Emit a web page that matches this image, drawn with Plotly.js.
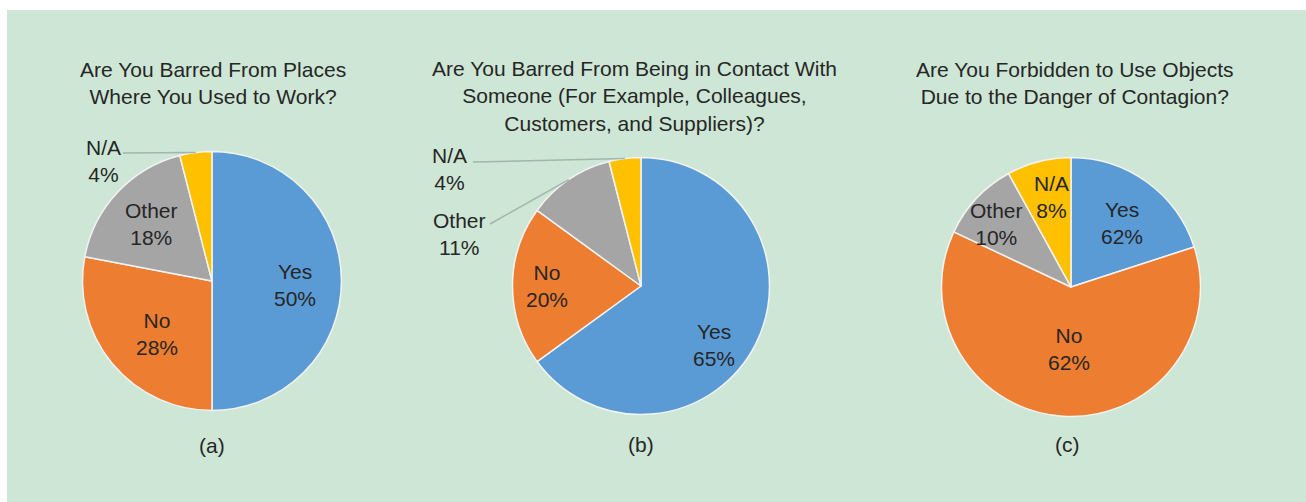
<!DOCTYPE html>
<html><head><meta charset="utf-8">
<script src="https://cdn.plot.ly/plotly-3.0.1.min.js"></script>
<style>
html,body{margin:0;padding:0;background:#fff;width:1306px;height:502px;overflow:hidden}
#chart{position:absolute;left:7px;top:10px;width:1299px;height:492px}
</style>
</head><body><div id="chart"></div>
<script>
// ---- data ----
const categories = ['Yes', 'No', 'Other', 'N/A'];
const valuesA = [50, 28, 18, 4];
const valuesB = [65, 20, 11, 4];
const valuesC = [20, 62, 10, 8];
// percentage labels as printed in the figure
const pctTextA = ['50%', '28%', '18%', '4%'];
const pctTextB = ['65%', '20%', '11%', '4%'];
const pctTextC = ['62%', '62%', '10%', '8%'];
const titleA = 'Are You Barred From Places<br>Where You Used to Work?';
const titleB = 'Are You Barred From Being in Contact With<br>Someone (For Example, Colleagues,<br>Customers, and Suppliers)?';
const titleC = 'Are You Forbidden to Use Objects<br>Due to the Danger of Contagion?';
const panelTags = ['(a)', '(b)', '(c)'];

// ---- style / layout ----
const colors = ['#5B9BD5', '#ED7D31', '#A5A5A5', '#FFC000'];
const FONT = 'Liberation Sans, Arial, Helvetica, sans-serif';
const TXT = '#262626';
const OX = 7, OY = 10, W = 1299, H = 492;
const toX = px => (px - OX) / W;
const toY = py => 1 - (py - OY) / H;

const pies = [
  {values: valuesA, pct: pctTextA, title: titleA, tag: panelTags[0],
   cx: 212, cy: 281, R: 129.5, titleX: 213, titleY: 83, tagX: 212, tagY: 445,
   place: [{r: 0.64, da: 3}, {r: 0.59, da: -4}, {r: 0.64, da: 0},
           {out: true, tx: -109, ty: -119.5, lx: -89, ly: -128}]},
  {values: valuesB, pct: pctTextB, title: titleB, tag: panelTags[1],
   cx: 641, cy: 286, R: 128.5, titleX: 634.5, titleY: 95.5, tagX: 641, tagY: 444,
   place: [{r: 0.73, da: 12}, {r: 0.73, da: 0},
           {out: true, tx: -182, ty: -52, lx: -151, ly: -62},
           {out: true, tx: -192, ty: -117.5, lx: -168, ly: -124}]},
  {values: valuesC, pct: pctTextC, title: titleC, tag: panelTags[2],
   cx: 1071, cy: 287, R: 129.5, titleX: 1074.5, titleY: 83, tagX: 1067, tagY: 444,
   place: [{r: 0.63, da: 2.5}, {r: 0.48, da: -1.4}, {r: 0.75, da: -3}, {r: 0.71, da: 2}]}
];

const traces = [], annotations = [], shapes = [];
pies.forEach(p => {
  traces.push({
    type: 'pie', values: p.values, labels: categories, sort: false,
    direction: 'clockwise', rotation: 0, textinfo: 'none',
    hoverinfo: 'label+percent', showlegend: false,
    marker: {colors: colors, line: {color: '#f3f3f3', width: 1.5}},
    domain: {x: [toX(p.cx - p.R), toX(p.cx + p.R)], y: [toY(p.cy + p.R), toY(p.cy - p.R)]}
  });
  annotations.push({text: p.title, x: toX(p.titleX), y: toY(p.titleY), xref: 'paper', yref: 'paper',
    xanchor: 'center', yanchor: 'middle', showarrow: false, align: 'center',
    font: {family: FONT, size: 21, color: TXT}});
  annotations.push({text: p.tag, x: toX(p.tagX), y: toY(p.tagY), xref: 'paper', yref: 'paper',
    xanchor: 'center', yanchor: 'middle', showarrow: false,
    font: {family: FONT, size: 21, color: TXT}});
  const total = p.values.reduce((a, b) => a + b, 0);
  let cum = 0;
  p.values.forEach((v, i) => {
    const mid = (cum + v / 2) / total * 360; cum += v;
    const pl = p.place[i];
    const txt = categories[i] + '<br>' + p.pct[i];
    if (pl.out) {
      const rad = mid * Math.PI / 180;
      const ex = p.cx + p.R * Math.sin(rad), ey = p.cy - p.R * Math.cos(rad);
      annotations.push({text: txt, x: toX(p.cx + pl.tx), y: toY(p.cy + pl.ty), xref: 'paper', yref: 'paper',
        xanchor: 'center', yanchor: 'middle', showarrow: false, align: 'center',
        font: {family: FONT, size: 21, color: TXT}});
      shapes.push({type: 'line', xref: 'paper', yref: 'paper',
        x0: toX(p.cx + pl.lx), y0: toY(p.cy + pl.ly), x1: toX(ex), y1: toY(ey),
        line: {color: '#a3b5ad', width: 1.5}});
    } else {
      const rad = (mid + pl.da) * Math.PI / 180;
      const r = pl.r * p.R;
      annotations.push({text: txt, x: toX(p.cx + r * Math.sin(rad)), y: toY(p.cy - r * Math.cos(rad)),
        xref: 'paper', yref: 'paper', xanchor: 'center', yanchor: 'middle', showarrow: false, align: 'center',
        font: {family: FONT, size: 21, color: TXT}});
    }
  });
});

const layout = {
  width: W, height: H, margin: {l: 0, r: 0, t: 0, b: 0, pad: 0},
  paper_bgcolor: '#CEE6D5', plot_bgcolor: '#CEE6D5', showlegend: false,
  annotations: annotations, shapes: shapes, font: {family: FONT}
};
Plotly.newPlot('chart', traces, layout, {displayModeBar: false, staticPlot: true});
</script>
</body></html>
